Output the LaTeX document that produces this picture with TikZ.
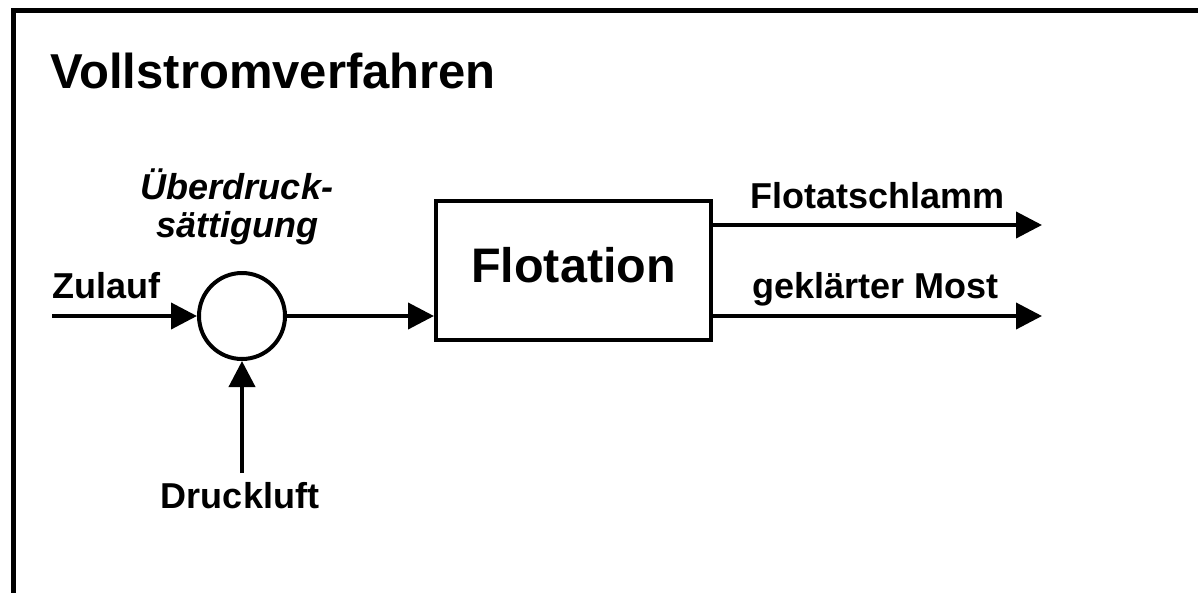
\documentclass[tikz,border=0pt]{standalone}
\usepackage{fontspec}
\setmainfont{Liberation Sans}
\usetikzlibrary{arrows.meta}
\begin{document}
\begin{tikzpicture}[x=1pt,y=-1pt,
  lbl/.style={inner sep=0pt, font=\fontsize{36}{38}\selectfont\bfseries},
  arr/.style={line width=4pt, -{Triangle[length=26pt,width=26pt]}},
  flowbox/.style={draw, line width=4pt, minimum width=275pt, minimum height=139pt, inner sep=0pt,
    text depth=12pt, font=\fontsize{48.5}{50}\selectfont\bfseries},
  mixer/.style={draw, circle, line width=4pt, minimum size=86pt, inner sep=0pt}]
\useasboundingbox (0,0) rectangle (1198,592);
\clip (0,0) rectangle (1198,592);
\draw[line width=5pt] (13.5,10.5) rectangle (1230,640);
\node[inner sep=0pt, anchor=base west, font=\fontsize{49}{50}\selectfont\bfseries] (title) at (50,88) {Vollstromverfahren};
\node[mixer] (mix) at (242,316) {};
\node[flowbox] (box) at (573.5,270.5) {Flotation};
\coordinate (in) at (52,316);
\coordinate (air) at (242,473);
\coordinate (o1) at (1042,225);
\coordinate (o2) at (1042,316);
\draw[arr] (in) -- (mix.west);
\draw[arr] (air) -- (mix.south);
\draw[arr] (mix.east) -- (box.west |- mix.east);
\draw[arr] (box.east |- o1) -- (o1);
\draw[arr] (box.east |- o2) -- (o2);
\node[lbl, anchor=base west] (zulauf) at (52,298) {Zulauf};
\node[lbl, anchor=base] (druck) at (240,508) {Druckluft};
\node[lbl, anchor=base, align=center, font=\fontsize{36}{38}\selectfont\bfseries\itshape] (ueber) at (237,237) {Überdruck-\\sättigung};
\node[lbl, anchor=base west] (schlamm) at (750,208) {Flotatschlamm};
\node[lbl, anchor=base west] (most) at (752,298) {geklärter Most};
\end{tikzpicture}
\end{document}
